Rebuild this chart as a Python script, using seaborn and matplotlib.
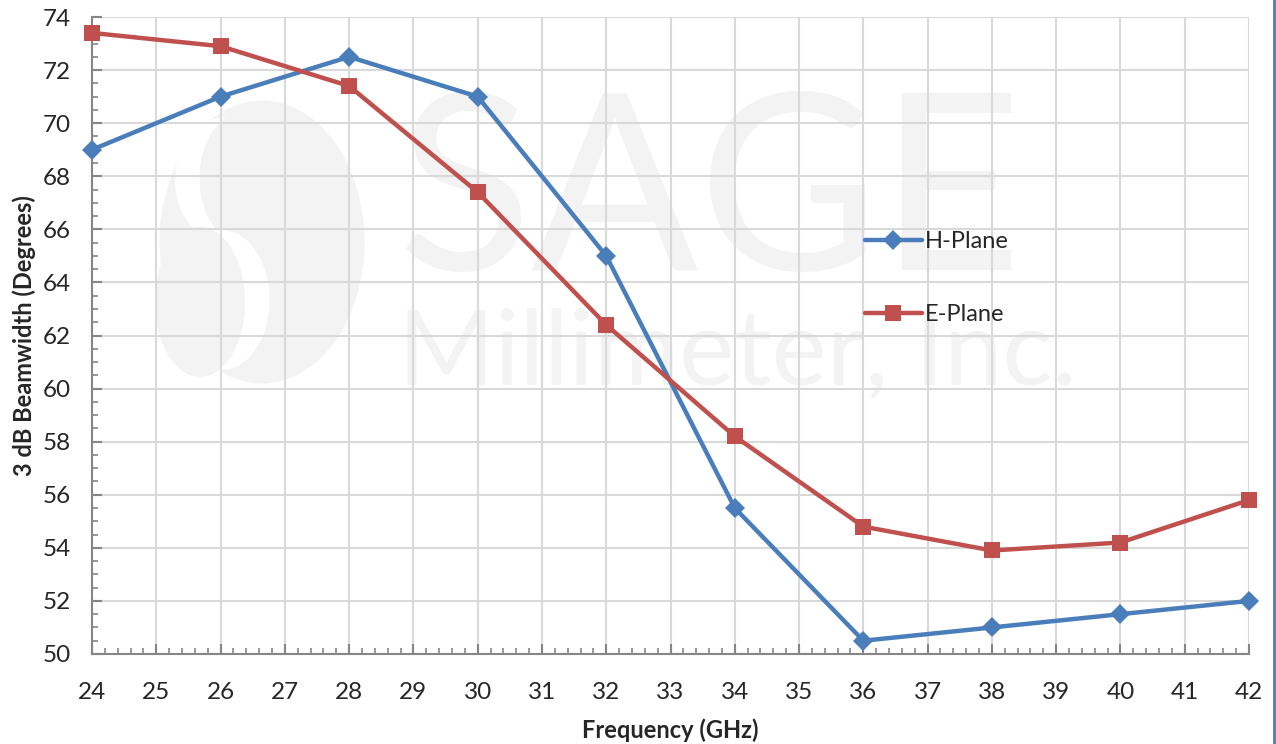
import matplotlib
matplotlib.use('Agg')
from matplotlib import pyplot as plt
from matplotlib.lines import Line2D
from matplotlib.patches import Ellipse
from matplotlib.ticker import MultipleLocator
import pandas as pd
import seaborn as sns

freq = [24, 26, 28, 30, 32, 34, 36, 38, 40, 42]
h_plane = [69.0, 71.0, 72.5, 71.0, 65.0, 55.5, 50.5, 51.0, 51.5, 52.0]
e_plane = [73.4, 72.9, 71.4, 67.4, 62.4, 58.2, 54.8, 53.9, 54.2, 55.8]
series_names = ['H-Plane', 'E-Plane']
x_ticks = list(range(24, 43))
y_ticks = list(range(50, 75, 2))

W, H = 1276, 744
AX_L, AX_R, AX_T, AX_B = 92, 1249, 17, 654


def ax_frac(px, py):
    return (px - AX_L) / (AX_R - AX_L), (AX_B - py) / (AX_B - AX_T)


def blob(ax, cx, cy, w, h, color):
    # ellipse given in picture pixels
    x, y = ax_frac(cx, cy)
    ax.add_patch(Ellipse((x, y), w / (AX_R - AX_L), h / (AX_B - AX_T),
                         transform=ax.transAxes, facecolor=color,
                         edgecolor='none', zorder=0))


def main():
    sns.set_style('white')
    plt.rcParams['font.family'] = ['Lato', 'DejaVu Sans']

    df = pd.DataFrame({
        'freq': freq * 2,
        'bw': h_plane + e_plane,
        'plane': [series_names[0]] * len(freq) + [series_names[1]] * len(freq),
    })

    fig = plt.figure(figsize=(W / 100, H / 100), dpi=100)
    ax = fig.add_axes([AX_L / W, 1 - AX_B / H, (AX_R - AX_L) / W, (AX_B - AX_T) / H])

    sns.lineplot(data=df, x='freq', y='bw', hue='plane', style='plane',
                 palette={'H-Plane': '#4a7ebb', 'E-Plane': '#c0504d'},
                 markers={'H-Plane': 'D', 'E-Plane': 's'},
                 dashes=False, linewidth=3.2, markersize=12,
                 markeredgewidth=0, ax=ax, zorder=3, clip_on=False)
    for line in ax.get_lines():
        if line.get_marker() == 'D':
            line.set_markersize(10)

    # faint watermark behind the grid
    wm = '#f3f3f3'
    blob(ax, 262, 242, 205, 283, wm)
    blob(ax, 225, 180, 100, 125, 'white')
    blob(ax, 247, 178, 95, 135, wm)
    blob(ax, 222, 300, 95, 140, 'white')
    blob(ax, 200, 302, 90, 150, wm)
    x, y = ax_frac(398, 270)
    ax.text(x, y, 'SAGE', transform=ax.transAxes, fontsize=178,
            color=wm, ha='left', va='baseline', zorder=0)
    x, y = ax_frac(398, 385)
    ax.text(x, y, 'Millimeter, Inc.', transform=ax.transAxes, fontsize=75,
            color=wm, ha='left', va='baseline', zorder=0)

    ax.set_xlim(24, 42)
    ax.set_ylim(50, 74)
    ax.set_xticks(x_ticks)
    ax.set_yticks(y_ticks)
    ax.xaxis.set_minor_locator(MultipleLocator(0.2))
    ax.yaxis.set_minor_locator(MultipleLocator(0.5))
    ax.grid(True, which='major', color='#d9d9d9', linewidth=1.5)
    ax.set_axisbelow(True)

    for side in ['top', 'right']:
        ax.spines[side].set_visible(False)
    for side in ['left', 'bottom']:
        ax.spines[side].set_color('#868686')
        ax.spines[side].set_linewidth(1.5)

    ax.tick_params(which='major', direction='in', length=7, width=1.5,
                   color='#868686', labelsize=17.5, bottom=True, left=True)
    ax.tick_params(which='minor', direction='in', length=4, width=1.2,
                   color='#868686', bottom=True, left=True)
    ax.tick_params(axis='x', which='major', pad=20)
    ax.tick_params(axis='y', which='major', pad=15)

    ax.set_xlabel('Frequency (GHz)', fontsize=17, fontweight='bold', labelpad=11)
    ax.set_ylabel('3 dB Beamwidth (Degrees)', fontsize=17, fontweight='bold', labelpad=5)

    handles = [
        Line2D([], [], color='#4a7ebb', marker='D', markersize=10, lw=3.2, markeredgewidth=0),
        Line2D([], [], color='#c0504d', marker='s', markersize=12, lw=3.2, markeredgewidth=0),
    ]
    x, y = ax_frac(865, 231)
    ax.legend(handles, series_names, loc='upper left', bbox_to_anchor=(x, y),
              frameon=False, fontsize=17, labelspacing=2.2, handlelength=2.4,
              handletextpad=0.15, borderpad=0, borderaxespad=0)

    fig.add_artist(Line2D([1274 / W, 1274 / W], [0, 1], color='#4a7ebb', lw=2))

    fig.savefig('out.png', dpi=100)


if __name__ == '__main__':
    main()
